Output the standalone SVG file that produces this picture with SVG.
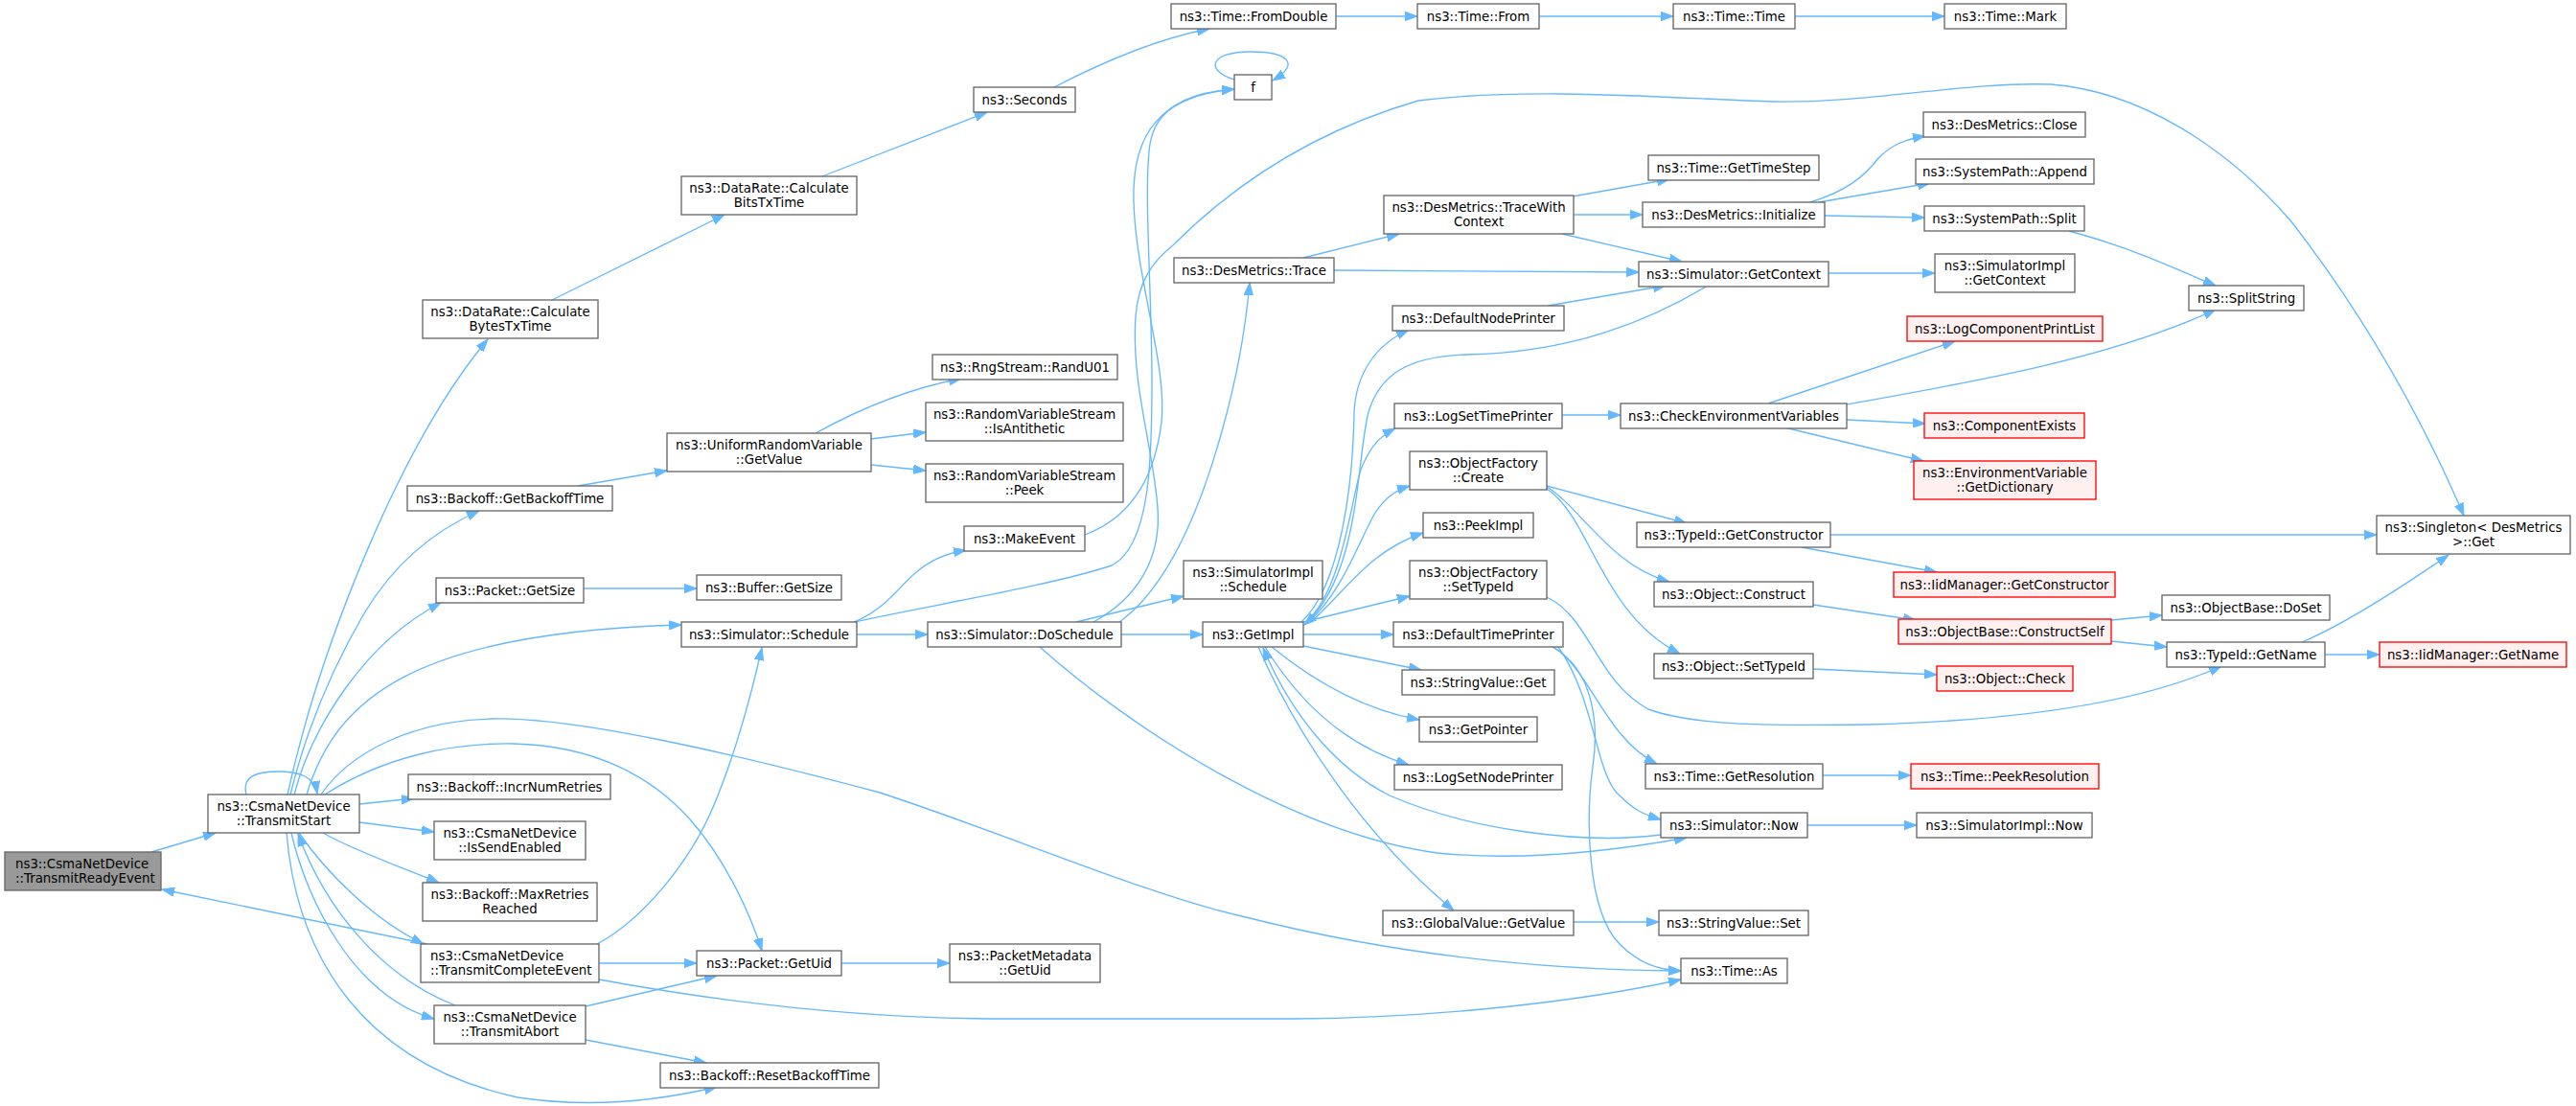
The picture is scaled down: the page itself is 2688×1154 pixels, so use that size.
<svg xmlns="http://www.w3.org/2000/svg" width="2688" height="1154" viewBox="0 0 2688 1154">
<defs>
<marker id="a" markerUnits="userSpaceOnUse" markerWidth="14" markerHeight="10" refX="13" refY="5" orient="auto"><path d="M0,0.35 L13,5 L0,9.65 Z" fill="#63b8ff" stroke="#63b8ff" stroke-width="1"/></marker>
</defs>
<style>
.n rect{fill:#fff;stroke:#666;stroke-width:1.33}
.r rect{fill:#fff0f0;stroke:#f00;stroke-width:1.33}
.root rect{fill:#999;stroke:#666;stroke-width:1.33}
text{font-family:"DejaVu Sans",sans-serif;font-size:13.33px;fill:#000;text-anchor:middle}
.l text{text-anchor:start}
#edges path{fill:none;stroke:#63b8ff;stroke-width:1.33;marker-end:url(#a)}
</style>
<rect x="0" y="0" width="2688" height="1154" fill="#fff"/>
<g id="edges">
<path d="M158,889 L225,869"/>
<path d="M446,985 L169,928"/>
<path d="M257,829 C252,810 268,805 290,805 C312,805 328,810 331,828"/>
<path d="M300,829 C335,670 420,460 509,354"/>
<path d="M303,829 C320,760 345,700 380,640 C410,590 450,555 500,533"/>
<path d="M307,829 C325,760 380,670 460,629"/>
<path d="M320,829 C350,730 430,660 711,652"/>
<path d="M335,829 C365,785 430,752 513,750 C600,748 760,785 918,827 C1050,870 1200,935 1300,957 C1450,995 1600,1012 1754,1013"/>
<path d="M339,829 C400,790 470,775 536,776 C620,778 680,810 720,855 C760,900 785,960 795,992"/>
<path d="M375,839 L432,833"/>
<path d="M375,858 L453,868"/>
<path d="M337,869 C370,888 420,905 458,921"/>
<path d="M312,869 C340,910 390,960 442,985"/>
<path d="M304,869 C320,940 370,1040 453,1063"/>
<path d="M475,1049 C400,1020 340,950 311,870"/>
<path d="M299,869 C310,1000 380,1110 540,1145 C620,1157 690,1148 748,1134"/>
<path d="M623,985 C670,960 720,900 745,840 C770,780 785,720 795,676"/>
<path d="M625,1005 L727,1005"/>
<path d="M625,1022 C750,1045 900,1063 1050,1063 L1350,1063 C1500,1062 1650,1045 1754,1022"/>
<path d="M611,1050 L748,1018"/>
<path d="M611,1085 L737,1109"/>
<path d="M576,313 L756,224"/>
<path d="M858,184 L1030,117"/>
<path d="M1100,91 C1150,65 1210,40 1262,30"/>
<path d="M1394,17 L1479,17"/>
<path d="M1606,17 L1746,17"/>
<path d="M1873,17 L2029,17"/>
<path d="M1288,83 C1260,75 1258,54 1306,54 C1340,54 1360,65 1328,84"/>
<path d="M1132,558 C1180,540 1205,500 1212,440 C1218,380 1185,290 1183,210 C1181,140 1210,100 1288,93"/>
<path d="M891,649 C980,630 1100,610 1160,590 C1200,570 1202,480 1202,400 C1202,300 1193,200 1200,150 C1206,115 1235,97 1288,93"/>
<path d="M1141,649 C1185,625 1212,585 1208,530 C1204,470 1180,400 1185,330 C1188,295 1200,275 1225,255 C1280,200 1360,140 1480,105 C1600,90 1750,103 1850,106 C1950,108 2050,85 2140,88 C2230,95 2320,150 2390,230 C2460,320 2520,420 2571,538"/>
<path d="M1168,649 C1215,615 1250,540 1275,450 C1292,390 1300,340 1304,295"/>
<path d="M1123,649 L1235,622"/>
<path d="M1170,662 L1255,662"/>
<path d="M894,662 L968,662"/>
<path d="M891,649 C925,635 940,610 955,598 C970,585 985,578 1008,574"/>
<path d="M1085,675 C1180,760 1350,870 1500,890 C1600,900 1700,885 1760,874"/>
<path d="M1733,871 C1650,882 1530,865 1450,830 C1390,800 1345,740 1318,676"/>
<path d="M1313,675 C1350,760 1420,870 1517,950"/>
<path d="M1327,675 C1370,710 1420,740 1481,751"/>
<path d="M1320,675 C1360,740 1410,780 1470,798"/>
<path d="M1360,674 L1483,699"/>
<path d="M1360,662 L1454,662"/>
<path d="M1360,649 L1471,622"/>
<path d="M1362,649 C1400,620 1410,520 1420,490 C1430,465 1440,455 1456,447"/>
<path d="M1365,649 C1400,620 1420,560 1435,535 C1445,520 1455,512 1471,507"/>
<path d="M1368,649 C1410,610 1430,575 1485,556"/>
<path d="M1358,649 C1400,610 1412,500 1413,430 C1415,390 1435,360 1470,344"/>
<path d="M1782,298 C1720,335 1640,368 1530,370 C1470,372 1440,390 1428,430 C1415,480 1420,600 1361,652"/>
<path d="M1908,285 L2019,285"/>
<path d="M1392,282 L1710,284"/>
<path d="M1360,269 L1460,244"/>
<path d="M1641,205 L1742,187"/>
<path d="M1642,224 L1714,224"/>
<path d="M1630,244 L1755,273"/>
<path d="M1615,319 L1738,298"/>
<path d="M1889,211 C1925,200 1945,185 1960,165 C1975,150 1990,145 2009,142"/>
<path d="M1898,211 L2014,191"/>
<path d="M1904,225 L2008,227"/>
<path d="M2159,241 C2230,260 2280,285 2312,298"/>
<path d="M1927,422 C2050,400 2200,375 2312,323"/>
<path d="M1845,421 L2040,356"/>
<path d="M1927,438 L2009,442"/>
<path d="M1862,446 L2007,481"/>
<path d="M1630,433 L1691,433"/>
<path d="M1614,507 L1760,546"/>
<path d="M1614,508 C1650,530 1680,590 1742,607"/>
<path d="M1614,510 C1660,540 1670,640 1753,682"/>
<path d="M1614,623 C1660,645 1665,710 1720,740 C1770,758 1850,757 1950,756 C2100,752 2230,735 2318,695"/>
<path d="M1910,558 L2480,558"/>
<path d="M1880,571 L2021,597"/>
<path d="M1892,631 L1999,647"/>
<path d="M1892,698 L2021,704"/>
<path d="M2203,647 L2256,642"/>
<path d="M2203,669 L2261,675"/>
<path d="M2426,683 L2483,683"/>
<path d="M2402,670 C2450,650 2510,610 2555,579"/>
<path d="M1621,675 C1660,700 1675,770 1729,797"/>
<path d="M1626,675 C1665,730 1665,810 1690,830 C1705,845 1715,850 1733,855"/>
<path d="M1620,675 C1665,700 1668,760 1662,800 C1655,850 1655,950 1690,985 C1710,1005 1730,1012 1754,1013"/>
<path d="M1902,809 L1994,809"/>
<path d="M1886,861 L2000,861"/>
<path d="M1642,962 L1731,962"/>
<path d="M603,507 L696,491"/>
<path d="M851,452 C900,425 950,405 1003,395"/>
<path d="M909,458 L966,451"/>
<path d="M909,485 L966,491"/>
<path d="M609,614 L727,614"/>
<path d="M878,1005 L991,1005"/>
</g>
<g id="n_TransmitReadyEvent" class="root l"><rect x="5" y="889" width="163" height="40"/><text x="16" y="905.5">ns3::CsmaNetDevice</text><text x="16" y="920.5">::TransmitReadyEvent</text></g>
<g id="n_TransmitStart" class="n"><rect x="217" y="829" width="158" height="40"/><text x="296" y="845.5">ns3::CsmaNetDevice</text><text x="296" y="860.5">::TransmitStart</text></g>
<g id="n_CalculateBytesTxTime" class="n"><rect x="441" y="313" width="183" height="40"/><text x="532.5" y="329.5">ns3::DataRate::Calculate</text><text x="532.5" y="344.5">BytesTxTime</text></g>
<g id="n_CalculateBitsTxTime" class="n"><rect x="711" y="184" width="183" height="40"/><text x="802.5" y="200.5">ns3::DataRate::Calculate</text><text x="802.5" y="215.5">BitsTxTime</text></g>
<g id="n_Seconds" class="n"><rect x="1016" y="91" width="106" height="26"/><text x="1069" y="108.5">ns3::Seconds</text></g>
<g id="n_FromDouble" class="n"><rect x="1222" y="4" width="172" height="26"/><text x="1308" y="21.5">ns3::Time::FromDouble</text></g>
<g id="n_TimeFrom" class="n"><rect x="1479" y="4" width="127" height="26"/><text x="1542.5" y="21.5">ns3::Time::From</text></g>
<g id="n_TimeTime" class="n"><rect x="1746" y="4" width="127" height="26"/><text x="1809.5" y="21.5">ns3::Time::Time</text></g>
<g id="n_TimeMark" class="n"><rect x="2029" y="4" width="127" height="26"/><text x="2092.5" y="21.5">ns3::Time::Mark</text></g>
<g id="n_f" class="n"><rect x="1288" y="78" width="39" height="26"/><text x="1307.5" y="95.5">f</text></g>
<g id="n_DesMetricsTrace" class="n"><rect x="1225" y="269" width="167" height="26"/><text x="1308.5" y="286.5">ns3::DesMetrics::Trace</text></g>
<g id="n_TraceWithContext" class="n"><rect x="1444" y="204" width="198" height="40"/><text x="1543" y="220.5">ns3::DesMetrics::TraceWith</text><text x="1543" y="235.5">Context</text></g>
<g id="n_GetTimeStep" class="n"><rect x="1720" y="162" width="178" height="26"/><text x="1809" y="179.5">ns3::Time::GetTimeStep</text></g>
<g id="n_DesMetricsInitialize" class="n"><rect x="1714" y="211" width="190" height="26"/><text x="1809" y="228.5">ns3::DesMetrics::Initialize</text></g>
<g id="n_SimulatorGetContext" class="n"><rect x="1710" y="273" width="198" height="26"/><text x="1809" y="290.5">ns3::Simulator::GetContext</text></g>
<g id="n_DefaultNodePrinter" class="n"><rect x="1453" y="319" width="179" height="26"/><text x="1542.5" y="336.5">ns3::DefaultNodePrinter</text></g>
<g id="n_DesMetricsClose" class="n"><rect x="2007" y="117" width="169" height="26"/><text x="2091.5" y="134.5">ns3::DesMetrics::Close</text></g>
<g id="n_SystemPathAppend" class="n"><rect x="1999" y="166" width="186" height="26"/><text x="2092" y="183.5">ns3::SystemPath::Append</text></g>
<g id="n_SystemPathSplit" class="n"><rect x="2008" y="215" width="167" height="26"/><text x="2091.5" y="232.5">ns3::SystemPath::Split</text></g>
<g id="n_SimulatorImplGetContext" class="n"><rect x="2019" y="265" width="146" height="40"/><text x="2092" y="281.5">ns3::SimulatorImpl</text><text x="2092" y="296.5">::GetContext</text></g>
<g id="n_SplitString" class="n"><rect x="2284" y="298" width="120" height="26"/><text x="2344" y="315.5">ns3::SplitString</text></g>
<g id="n_LogComponentPrintList" class="r"><rect x="1990" y="330" width="204" height="26"/><text x="2092" y="347.5">ns3::LogComponentPrintList</text></g>
<g id="n_LogSetTimePrinter" class="n"><rect x="1455" y="421" width="175" height="26"/><text x="1542.5" y="438.5">ns3::LogSetTimePrinter</text></g>
<g id="n_CheckEnvironmentVariables" class="n"><rect x="1691" y="421" width="236" height="26"/><text x="1809" y="438.5">ns3::CheckEnvironmentVariables</text></g>
<g id="n_ComponentExists" class="r"><rect x="2008" y="431" width="167" height="26"/><text x="2091.5" y="448.5">ns3::ComponentExists</text></g>
<g id="n_GetDictionary" class="r"><rect x="1997" y="481" width="190" height="40"/><text x="2092" y="497.5">ns3::EnvironmentVariable</text><text x="2092" y="512.5">::GetDictionary</text></g>
<g id="n_ObjectFactoryCreate" class="n"><rect x="1471" y="471" width="143" height="40"/><text x="1542.5" y="487.5">ns3::ObjectFactory</text><text x="1542.5" y="502.5">::Create</text></g>
<g id="n_PeekImpl" class="n"><rect x="1485" y="535" width="115" height="26"/><text x="1542.5" y="552.5">ns3::PeekImpl</text></g>
<g id="n_ObjectFactorySetTypeId" class="n"><rect x="1471" y="585" width="143" height="40"/><text x="1542.5" y="601.5">ns3::ObjectFactory</text><text x="1542.5" y="616.5">::SetTypeId</text></g>
<g id="n_TypeIdGetConstructor" class="n"><rect x="1708" y="545" width="202" height="26"/><text x="1809" y="562.5">ns3::TypeId::GetConstructor</text></g>
<g id="n_SingletonGet" class="n"><rect x="2480" y="538" width="202" height="40"/><text x="2581" y="554.5">ns3::Singleton&lt; DesMetrics</text><text x="2581" y="569.5"> &gt;::Get</text></g>
<g id="n_IidManagerGetConstructor" class="r"><rect x="1976" y="597" width="231" height="26"/><text x="2091.5" y="614.5">ns3::IidManager::GetConstructor</text></g>
<g id="n_ObjectConstruct" class="n"><rect x="1726" y="607" width="166" height="26"/><text x="1809" y="624.5">ns3::Object::Construct</text></g>
<g id="n_ConstructSelf" class="r"><rect x="1981" y="646" width="222" height="26"/><text x="2092" y="663.5">ns3::ObjectBase::ConstructSelf</text></g>
<g id="n_ObjectBaseDoSet" class="n"><rect x="2256" y="621" width="175" height="26"/><text x="2343.5" y="638.5">ns3::ObjectBase::DoSet</text></g>
<g id="n_TypeIdGetName" class="n"><rect x="2261" y="670" width="165" height="26"/><text x="2343.5" y="687.5">ns3::TypeId::GetName</text></g>
<g id="n_IidManagerGetName" class="r"><rect x="2483" y="670" width="195" height="26"/><text x="2580.5" y="687.5">ns3::IidManager::GetName</text></g>
<g id="n_ObjectSetTypeId" class="n"><rect x="1726" y="682" width="166" height="26"/><text x="1809" y="699.5">ns3::Object::SetTypeId</text></g>
<g id="n_ObjectCheck" class="r"><rect x="2021" y="695" width="142" height="26"/><text x="2092" y="712.5">ns3::Object::Check</text></g>
<g id="n_RandU01" class="n"><rect x="973" y="370" width="193" height="26"/><text x="1069.5" y="387.5">ns3::RngStream::RandU01</text></g>
<g id="n_UniformGetValue" class="n"><rect x="696" y="452" width="213" height="40"/><text x="802.5" y="468.5">ns3::UniformRandomVariable</text><text x="802.5" y="483.5">::GetValue</text></g>
<g id="n_IsAntithetic" class="n"><rect x="966" y="420" width="206" height="40"/><text x="1069" y="436.5">ns3::RandomVariableStream</text><text x="1069" y="451.5">::IsAntithetic</text></g>
<g id="n_RVSPeek" class="n"><rect x="966" y="484" width="206" height="40"/><text x="1069" y="500.5">ns3::RandomVariableStream</text><text x="1069" y="515.5">::Peek</text></g>
<g id="n_GetBackoffTime" class="n"><rect x="425" y="507" width="214" height="26"/><text x="532" y="524.5">ns3::Backoff::GetBackoffTime</text></g>
<g id="n_MakeEvent" class="n"><rect x="1006" y="549" width="126" height="26"/><text x="1069" y="566.5">ns3::MakeEvent</text></g>
<g id="n_SimulatorImplSchedule" class="n"><rect x="1235" y="585" width="145" height="40"/><text x="1307.5" y="601.5">ns3::SimulatorImpl</text><text x="1307.5" y="616.5">::Schedule</text></g>
<g id="n_PacketGetSize" class="n"><rect x="455" y="603" width="154" height="26"/><text x="532" y="620.5">ns3::Packet::GetSize</text></g>
<g id="n_BufferGetSize" class="n"><rect x="727" y="600" width="151" height="26"/><text x="802.5" y="617.5">ns3::Buffer::GetSize</text></g>
<g id="n_SimulatorSchedule" class="n"><rect x="711" y="649" width="183" height="26"/><text x="802.5" y="666.5">ns3::Simulator::Schedule</text></g>
<g id="n_DoSchedule" class="n"><rect x="968" y="649" width="202" height="26"/><text x="1069" y="666.5">ns3::Simulator::DoSchedule</text></g>
<g id="n_GetImpl" class="n"><rect x="1255" y="649" width="105" height="26"/><text x="1307.5" y="666.5">ns3::GetImpl</text></g>
<g id="n_DefaultTimePrinter" class="n"><rect x="1454" y="649" width="177" height="26"/><text x="1542.5" y="666.5">ns3::DefaultTimePrinter</text></g>
<g id="n_StringValueGet" class="n"><rect x="1463" y="699" width="159" height="26"/><text x="1542.5" y="716.5">ns3::StringValue::Get</text></g>
<g id="n_GetPointer" class="n"><rect x="1481" y="748" width="123" height="26"/><text x="1542.5" y="765.5">ns3::GetPointer</text></g>
<g id="n_LogSetNodePrinter" class="n"><rect x="1455" y="798" width="175" height="26"/><text x="1542.5" y="815.5">ns3::LogSetNodePrinter</text></g>
<g id="n_GetResolution" class="n"><rect x="1717" y="797" width="185" height="26"/><text x="1809.5" y="814.5">ns3::Time::GetResolution</text></g>
<g id="n_PeekResolution" class="r"><rect x="1994" y="797" width="196" height="26"/><text x="2092" y="814.5">ns3::Time::PeekResolution</text></g>
<g id="n_SimulatorNow" class="n"><rect x="1733" y="848" width="153" height="26"/><text x="1809.5" y="865.5">ns3::Simulator::Now</text></g>
<g id="n_SimulatorImplNow" class="n"><rect x="2000" y="848" width="183" height="26"/><text x="2091.5" y="865.5">ns3::SimulatorImpl::Now</text></g>
<g id="n_GlobalValueGetValue" class="n"><rect x="1443" y="950" width="199" height="26"/><text x="1542.5" y="967.5">ns3::GlobalValue::GetValue</text></g>
<g id="n_StringValueSet" class="n"><rect x="1731" y="950" width="156" height="26"/><text x="1809" y="967.5">ns3::StringValue::Set</text></g>
<g id="n_TimeAs" class="n"><rect x="1754" y="1000" width="111" height="26"/><text x="1809.5" y="1017.5">ns3::Time::As</text></g>
<g id="n_IncrNumRetries" class="n"><rect x="426" y="808" width="211" height="26"/><text x="531.5" y="825.5">ns3::Backoff::IncrNumRetries</text></g>
<g id="n_IsSendEnabled" class="n"><rect x="453" y="857" width="158" height="40"/><text x="532" y="873.5">ns3::CsmaNetDevice</text><text x="532" y="888.5">::IsSendEnabled</text></g>
<g id="n_MaxRetriesReached" class="n"><rect x="441" y="921" width="182" height="40"/><text x="532" y="937.5">ns3::Backoff::MaxRetries</text><text x="532" y="952.5">Reached</text></g>
<g id="n_TransmitCompleteEvent" class="n l"><rect x="439" y="985" width="186" height="40"/><text x="449" y="1001.5">ns3::CsmaNetDevice</text><text x="449" y="1016.5">::TransmitCompleteEvent</text></g>
<g id="n_TransmitAbort" class="n"><rect x="453" y="1049" width="158" height="40"/><text x="532" y="1065.5">ns3::CsmaNetDevice</text><text x="532" y="1080.5">::TransmitAbort</text></g>
<g id="n_PacketGetUid" class="n"><rect x="727" y="992" width="151" height="26"/><text x="802.5" y="1009.5">ns3::Packet::GetUid</text></g>
<g id="n_PacketMetadataGetUid" class="n"><rect x="991" y="985" width="157" height="40"/><text x="1069.5" y="1001.5">ns3::PacketMetadata</text><text x="1069.5" y="1016.5">::GetUid</text></g>
<g id="n_ResetBackoffTime" class="n"><rect x="689" y="1109" width="228" height="26"/><text x="803" y="1126.5">ns3::Backoff::ResetBackoffTime</text></g>
</svg>
